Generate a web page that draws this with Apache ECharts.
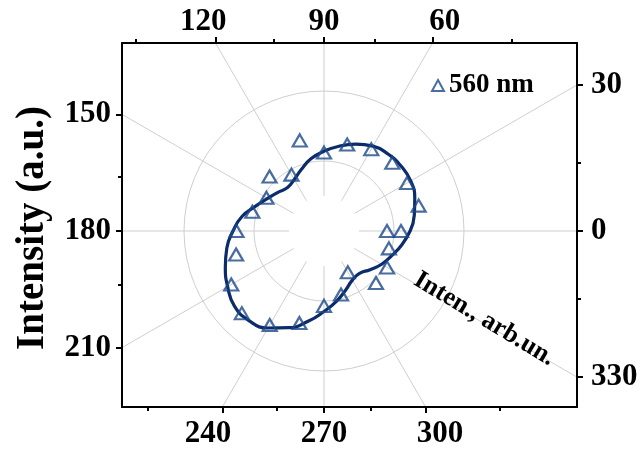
<!DOCTYPE html>
<html><head><meta charset="utf-8">
<script src="https://cdn.jsdelivr.net/npm/echarts@6/dist/echarts.min.js"></script>
<style>html,body{margin:0;padding:0;background:#fff}#c{width:642px;height:455px}</style>
</head><body><div id="c"></div>
<script>
// ---- data ----
const angleTickLabels = [0, 30, 60, 90, 120, 150, 180, 210, 240, 270, 300, 330];
const minorTickAngles = [15, 45, 75, 105, 135, 165, 195, 225, 255, 285, 315, 345];
const gridCircles = [0, 1, 2];
const pointAngles = [0, 15, 30, 45, 60, 75, 90, 105, 120, 135, 150, 165, 180, 195, 210, 225, 240, 255, 270, 285, 300, 315, 330, 345, 360];
const pointIntensity = [0.90, 1.40, 1.37, 1.38, 1.35, 1.28, 1.12, 1.34, 0.93, 1.10, 0.95, 1.06, 1.25, 1.30, 1.53, 1.66, 1.55, 1.36, 1.07, 0.94, 0.68, 1.05, 1.04, 0.96, 1.10];
const fitAngles = [0, 10, 20, 30, 40, 50, 60, 70, 80, 90, 100, 110, 120, 130, 140, 150, 160, 170, 180, 190, 200, 210, 220, 230, 240, 250, 260, 270, 280, 290, 300, 310, 320, 330, 340, 350, 360];
const fitIntensity = [1.23, 1.31, 1.38, 1.43, 1.44, 1.43, 1.40, 1.32, 1.23, 1.14, 1.05, 0.94, 0.85, 0.81, 0.86, 0.93, 1.04, 1.19, 1.30, 1.41, 1.50, 1.59, 1.67, 1.67, 1.60, 1.47, 1.31, 1.15, 1.02, 0.90, 0.81, 0.79, 0.86, 0.95, 1.03, 1.13, 1.23];
const seriesName = '560 nm';
const yTitle = 'Intensity (a.u.)';
const radialTitle = 'Inten., arb.un.';

// ---- layout ----
const CX = 324, CY = 231;
const FL = 122, FR = 577, FT = 43, FB = 407;
const UNIT = 70;
const DL = FL - CX, DR = FR - CX, DT = CY - FT, DB = FB - CY;
const DTL = DT + 21, DBL = DB + 25; // label lines for top/bottom (labels follow rays)
const FONT = 'Liberation Serif, Times New Roman, serif';
const rad = d => d * Math.PI / 180;
const deg = r => { let d = r * 180 / Math.PI; d = ((d % 360) + 360) % 360; return Math.round(d) % 360; };

function hits(angles, side, dist) {
  const out = [];
  angles.forEach(a => {
    const c = Math.cos(rad(a)), s = Math.sin(rad(a));
    let v = null;
    if (side === 'top' && s > 1e-9) { v = dist * c / s; if (v < DL || v > DR) v = null; }
    if (side === 'bottom' && s < -1e-9) { v = -dist * c / s; if (v < DL || v > DR) v = null; }
    if (side === 'left' && c < -1e-9) { v = -dist * s / c; if (v < -DB || v > DT) v = null; }
    if (side === 'right' && c > 1e-9) { v = dist * s / c; if (v < -DB || v > DT) v = null; }
    if (v !== null) out.push(v);
  });
  return out;
}
const fmts = {
  top: v => String(deg(Math.atan2(DTL, v))),
  bottom: v => String(deg(Math.atan2(-DBL, v))),
  left: v => String(deg(Math.atan2(v, DL))),
  right: v => String(deg(Math.atan2(v, DR)))
};
const edgeDist = {top: DT, bottom: DB, left: -DL, right: DR};
const labelDist = {top: DTL, bottom: DBL, left: -DL, right: DR};
const margins = {top: 6, bottom: 11, left: 11, right: 14};

function frameAxis(side, major) {
  const isX = side === 'top' || side === 'bottom';
  return {
    gridIndex: 0, type: 'value', position: side,
    min: isX ? DL : -DB, max: isX ? DR : DT,
    z: 10,
    axisLine: {show: major, onZero: false, lineStyle: {color: '#000', width: 2}},
    axisTick: {show: true, inside: false, length: major ? 6 : 4,
      customValues: hits(major ? angleTickLabels : minorTickAngles, side, edgeDist[side]),
      lineStyle: {color: '#000', width: 2}},
    axisLabel: major ? {show: true, customValues: hits(angleTickLabels, side, labelDist[side]),
      formatter: fmts[side], margin: margins[side], color: '#000',
      fontFamily: FONT, fontWeight: 'bold', fontSize: 31} : {show: false},
    splitLine: {show: false}
  };
}

const chart = echarts.init(document.getElementById('c'), null, {renderer: 'canvas'});
const rp = rad(-31), dAlong = 196, dPerp = 15;
const option = {
  animation: false,
  backgroundColor: '#fff',
  polar: [
    {center: [CX, CY], radius: [0, UNIT * gridCircles[gridCircles.length - 1]]},
    {center: [CX, CY], radius: [UNIT / 2, 330]}
  ],
  angleAxis: [
    {polarIndex: 0, type: 'value', startAngle: 0, clockwise: false, min: 0, max: 360, interval: 30,
      axisLine: {show: false}, axisTick: {show: false}, axisLabel: {show: false}, splitLine: {show: false}},
    {polarIndex: 1, type: 'value', startAngle: 0, clockwise: false, min: 0, max: 360, interval: 30, z: 1,
      axisLine: {show: false}, axisTick: {show: false}, axisLabel: {show: false},
      splitLine: {show: true, lineStyle: {color: '#cfcfcf', width: 1}}}
  ],
  radiusAxis: [
    {polarIndex: 0, type: 'value', min: gridCircles[0], max: gridCircles[gridCircles.length - 1], interval: 1, z: 1,
      axisLine: {show: false}, axisTick: {show: false}, axisLabel: {show: false},
      splitLine: {show: true, lineStyle: {color: '#cfcfcf', width: 1}}},
    {polarIndex: 1, type: 'value', min: 0, max: 1,
      axisLine: {show: false}, axisTick: {show: false}, axisLabel: {show: false}, splitLine: {show: false}}
  ],
  grid: {left: FL, top: FT, width: FR - FL, height: FB - FT, show: false},
  xAxis: [frameAxis('bottom', true), frameAxis('bottom', false), frameAxis('top', true), frameAxis('top', false)],
  yAxis: [frameAxis('left', true), frameAxis('left', false), frameAxis('right', true), frameAxis('right', false)],
  legend: {
    data: [seriesName], left: 426, top: 67, icon: 'triangle', itemWidth: 12, itemHeight: 11, itemGap: 5,
    itemStyle: {color: 'rgba(0,0,0,0)', borderColor: '#1b4887', borderWidth: 2},
    textStyle: {fontFamily: FONT, fontWeight: 'bold', fontSize: 27, color: '#000'}
  },
  series: [
    {type: 'line', name: 'fit', coordinateSystem: 'polar', polarIndex: 0, smooth: true,
      showSymbol: false, symbol: 'none', z: 3,
      lineStyle: {color: '#0b2b6b', width: 3.2},
      data: fitAngles.map((a, i) => [fitIntensity[i], a])},
    {type: 'scatter', name: seriesName, coordinateSystem: 'polar', polarIndex: 0, z: 4,
      symbol: 'triangle', symbolSize: [14, 12],
      itemStyle: {color: 'rgba(255,255,255,0)', borderColor: '#1b4887', borderWidth: 2.2},
      data: pointAngles.map((a, i) => [pointIntensity[i], a])}
  ],
  graphic: [
    {type: 'rect', z: 5, shape: {x: 0, y: 0, width: 642, height: FT}, style: {fill: '#fff'}},
    {type: 'rect', z: 5, shape: {x: 0, y: FB, width: 642, height: 455 - FB}, style: {fill: '#fff'}},
    {type: 'rect', z: 5, shape: {x: 0, y: 0, width: FL, height: 455}, style: {fill: '#fff'}},
    {type: 'rect', z: 5, shape: {x: FR, y: 0, width: 642 - FR, height: 455}, style: {fill: '#fff'}},
    {type: 'text', z: 12, x: 33, y: 228, rotation: Math.PI / 2,
      style: {text: yTitle, fontFamily: FONT, fontWeight: 'bold', fontSize: 39, fill: '#000', align: 'center', verticalAlign: 'middle'}},
    {type: 'text', z: 12,
      x: CX + dAlong * Math.cos(rp) + dPerp * Math.sin(rp),
      y: CY - dAlong * Math.sin(rp) - dPerp * Math.cos(rp),
      rotation: rp,
      style: {text: radialTitle, fontFamily: FONT, fontWeight: 'bold', fontSize: 26, fill: '#000', align: 'center', verticalAlign: 'middle'}}
  ]
};
chart.setOption(option);
</script>
</body></html>
